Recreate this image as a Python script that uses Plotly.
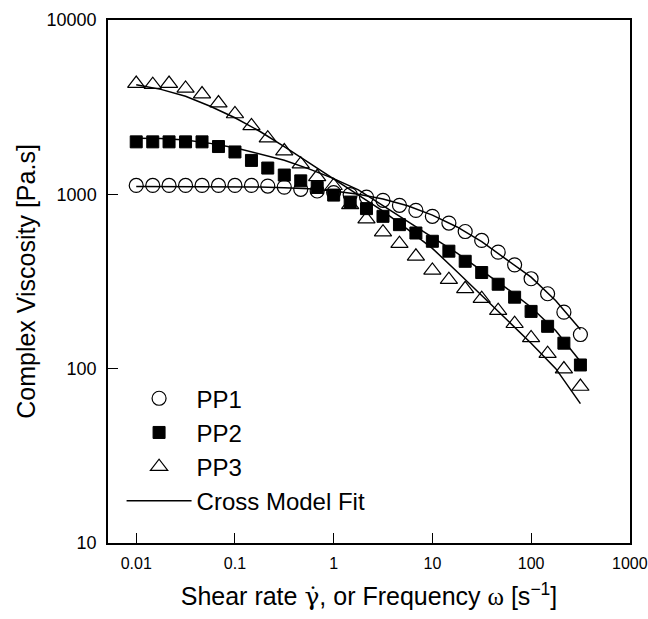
import plotly.graph_objects as go

# Shear rate / frequency grid of the measured points
shear = [0.01, 0.0147, 0.0215, 0.0316, 0.0464, 0.0681, 0.1, 0.147, 0.215, 0.316,
         0.464, 0.681, 1.0, 1.47, 2.15, 3.16, 4.64, 6.81, 10, 14.7, 21.5, 31.6,
         46.4, 68.1, 100, 147, 215, 316]

pp1 = [1125, 1125, 1125, 1125, 1125, 1125, 1125, 1125, 1115, 1100, 1069, 1045,
       1023, 996, 964, 924, 865, 809, 748, 684, 612, 544, 466, 394, 328, 269, 211, 157]
pp2 = [2000, 2000, 2000, 2000, 2000, 1880, 1750, 1565, 1415, 1290, 1195, 1095,
       990, 903, 828, 748, 670, 600, 538, 472, 413, 356, 305, 257, 213, 175, 140, 105]
pp3 = [4320, 4260, 4320, 4050, 3760, 3340, 2890, 2470, 2100, 1770, 1490, 1260,
       1120, 870, 720, 607, 521, 441, 366, 324, 287, 252, 215, 181, 150, 122, 99.5, 79]

# Cross model fit curves
fit_x = [0.01, 0.0178, 0.0316, 0.0562, 0.1, 0.178, 0.316, 0.562, 1, 1.78, 3.16,
         5.62, 10, 17.8, 31.6, 56.2, 100, 178, 316]
fit1 = [1110, 1110, 1110, 1108, 1105, 1100, 1090, 1075, 1045, 1000, 940, 860,
        760, 650, 535, 425, 335, 245, 168]
fit2 = [2100, 2090, 2050, 1960, 1850, 1710, 1570, 1400, 1230, 1060, 860, 700,
        570, 460, 365, 290, 225, 165, 110]
fit3 = [4250, 4000, 3650, 3200, 2750, 2300, 1880, 1520, 1230, 1000, 800, 630,
        490, 360, 262, 190, 140, 100, 63]

x_ticks = [0.01, 0.1, 1, 10, 100, 1000]
x_ticktext = ["0.01", "0.1", "1", "10", "100", "1000"]
y_ticks = [10, 100, 1000, 10000]
y_ticktext = ["10", "100", "1000", "10000"]

FONT = "Liberation Sans, Arial, sans-serif"

fig = go.Figure()

for fy, show in [(fit1, True), (fit2, False), (fit3, False)]:
    fig.add_trace(go.Scatter(
        x=fit_x, y=fy, mode="lines", name="Cross Model Fit",
        line=dict(color="black", width=1.5), showlegend=show, legendrank=4))

fig.add_trace(go.Scatter(
    x=shear, y=pp1, mode="markers", name="PP1", legendrank=1,
    marker=dict(symbol="circle-open", size=14, color="black",
                line=dict(color="black", width=1.2))))
fig.add_trace(go.Scatter(
    x=shear, y=pp2, mode="markers", name="PP2", legendrank=2,
    marker=dict(symbol="square", size=12, color="black",
                line=dict(color="black", width=1))))
fig.add_trace(go.Scatter(
    x=shear, y=pp3, mode="markers", name="PP3", legendrank=3,
    marker=dict(symbol="triangle-up-open", size=15, color="black",
                line=dict(color="black", width=1.2))))

fig.update_layout(
    width=648, height=619,
    margin=dict(l=108, r=18, t=20, b=76, autoexpand=False),
    paper_bgcolor="white", plot_bgcolor="white",
    font=dict(family=FONT, color="black", size=18),
    showlegend=True,
    legend=dict(x=0.026, y=0.319, xanchor="left", yanchor="top",
                bgcolor="rgba(0,0,0,0)", font=dict(size=24, family=FONT),
                itemwidth=65, tracegroupgap=0),
    xaxis=dict(type="log", range=[-2.286, 3.002], tickvals=x_ticks,
               ticktext=x_ticktext, ticks="inside", ticklen=10, tickwidth=1,
               tickcolor="black", showline=True, linecolor="black",
               linewidth=1.5, mirror=True, showgrid=False, zeroline=False,
               tickfont=dict(size=16),
               ticklabelstandoff=5, automargin=False, ticklabeloverflow="allow",
               title=dict(text="Shear rate <span style='font-family:DejaVu Serif'>γ̇</span>, or Frequency "
                          "<span style='font-family:Liberation Serif'>ω</span> [s<sup>−1</sup>]",
                          font=dict(size=25, family=FONT), standoff=17)),
    yaxis=dict(type="log", range=[1, 4], tickvals=y_ticks,
               ticktext=y_ticktext, ticks="inside", ticklen=10, tickwidth=1,
               tickcolor="black", showline=True, linecolor="black",
               linewidth=1.5, mirror=True, showgrid=False, zeroline=False,
               ticklabelstandoff=6, automargin=False,
               title=dict(text="Complex Viscosity [Pa.s]",
                          font=dict(size=25, family=FONT), standoff=4)),
)

fig.write_html("out.html")
